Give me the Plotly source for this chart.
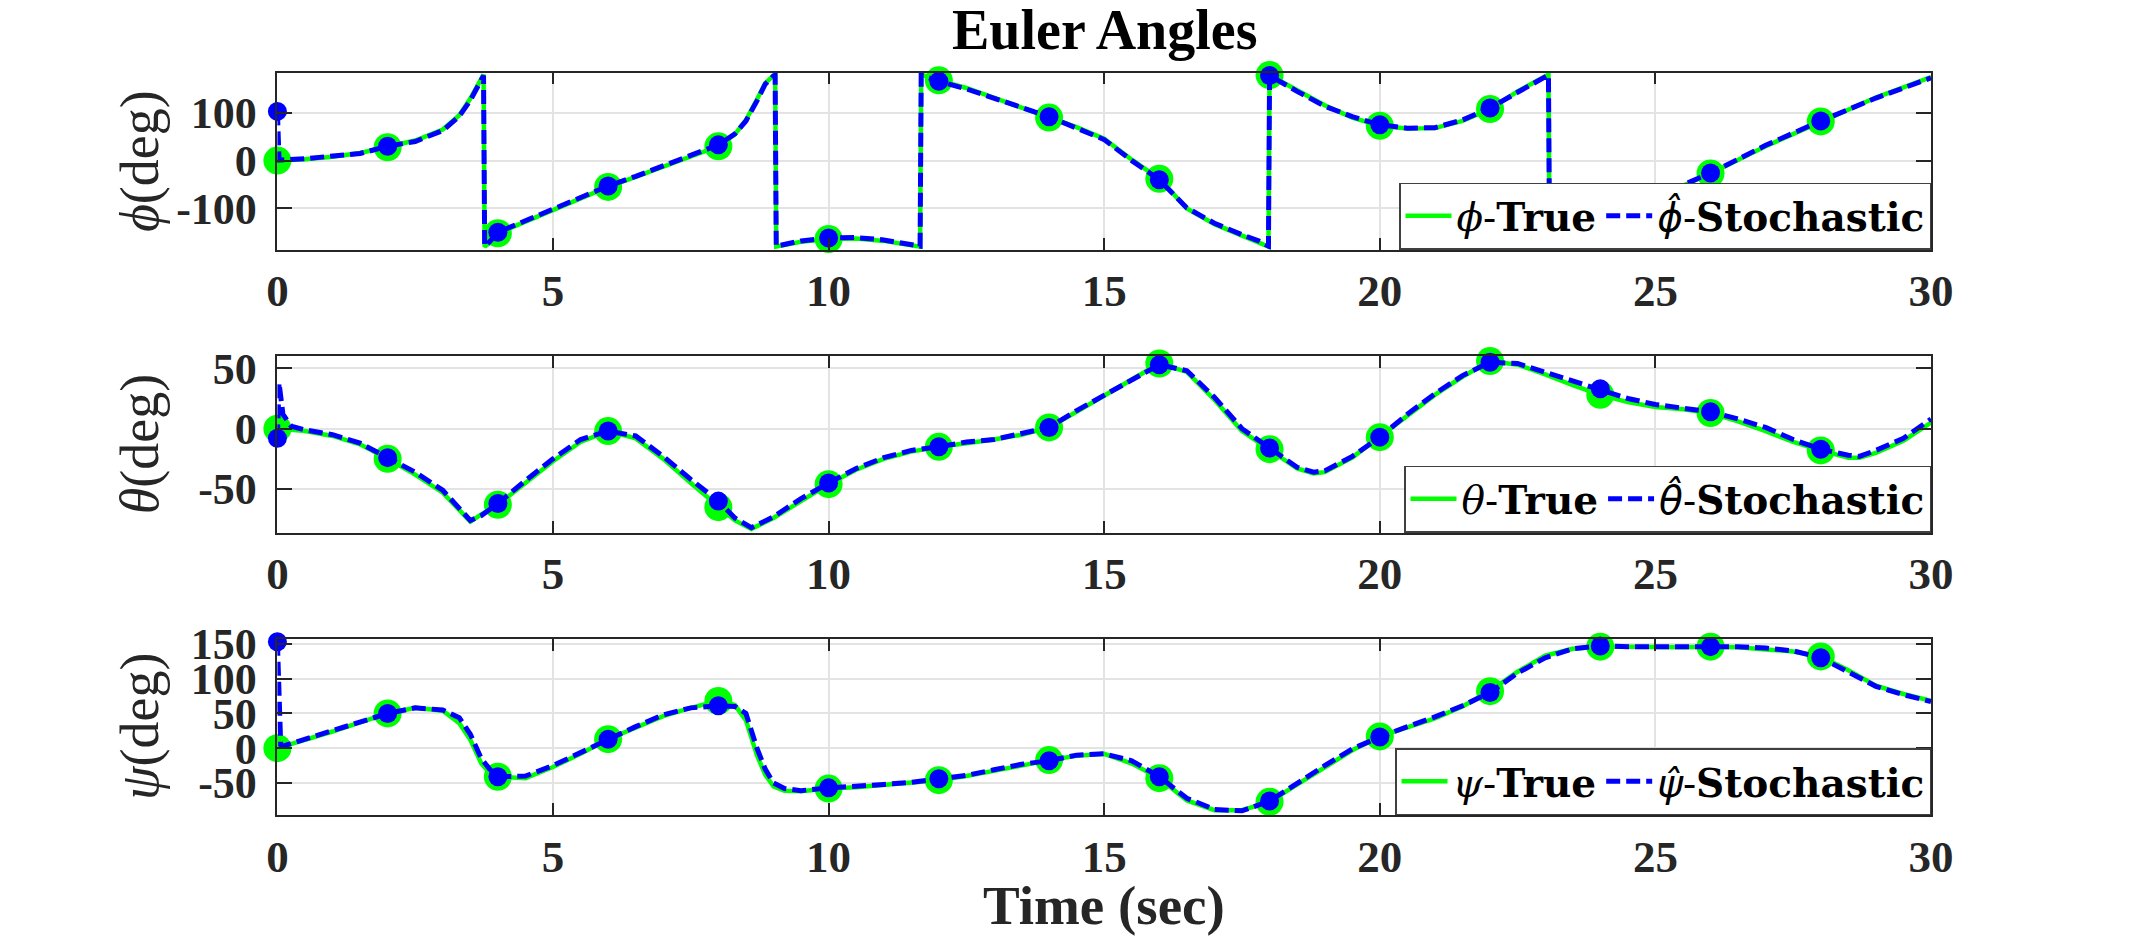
import numpy as np
import plotly.graph_objects as go

# ---------------- data ----------------
t_phi = [0, 0.03, 0.5, 1, 1.5, 2, 2.5, 3, 3.3, 3.5,
         3.65, 3.74, 3.76, 3.85, 4, 4.5, 5, 5.5, 6, 6.5,
         7, 7.5, 8, 8.3, 8.5, 8.7, 8.85, 9.0, 9.03, 9.05,
         9.2, 9.5, 10, 10.5, 11, 11.4, 11.66, 11.68, 11.8, 12,
         12.5, 13, 13.5, 14, 14.5, 15, 15.5, 16, 16.5, 17,
         17.5, 17.8, 17.98, 18.0, 18.5, 19, 19.5, 20, 20.5, 21,
         21.5, 22, 22.5, 22.8, 23.06, 23.08, 24, 25, 26, 27,
         28, 29, 30]
phi_true = [0, 0, 3, 8, 16, 28, 42, 65, 95, 130,
            160, 180, -180, -172, -152, -128, -103, -79, -55, -34,
            -12, 9, 30, 55, 85, 128, 162, 178, 180, -180,
            -176, -170, -164, -163, -168, -175, -180, 180, 175, 168,
            152, 132, 112, 90, 70, 46, 2, -38, -100, -133,
            -157, -170, -180, 179, 147, 116, 90, 73, 67, 68,
            83, 108, 145, 163, 180, -180, -128, -78, -27, 30,
            82, 132, 175]
phi_stoch = [103, 1, 4, 9, 15, 30, 40, 63, 93, 126,
             158, 178, -179, -170, -150, -126, -101, -78, -53, -33,
             -11, 10, 33, 56, 83, 125, 160, 177, 179, -179,
             -175, -168, -162, -161, -166, -174, -179, 179, 174, 166,
             150, 131, 110, 92, 68, 44, 0, -40, -99, -131,
             -155, -168, -179, 178, 145, 114, 92, 75, 68, 69,
             85, 110, 143, 162, 179, -179, -126, -76, -26, 32,
             83, 131, 173]

t_theta = [0, 0.03, 0.1, 0.25, 0.5, 1, 1.5, 2, 2.5, 3,
           3.5, 3.7, 4, 4.5, 5, 5.5, 6, 6.5, 7, 7.5,
           8, 8.3, 8.6, 9, 9.5, 10, 10.5, 11, 11.5, 12,
           12.5, 13, 13.5, 14, 14.5, 15, 15.5, 16, 16.5, 17,
           17.5, 18, 18.5, 18.8, 19, 19.5, 20, 20.5, 21, 21.5,
           22, 22.5, 23, 23.5, 24, 24.5, 25, 25.5, 26, 26.5,
           27, 27.5, 28, 28.5, 28.7, 29, 29.5, 30]
theta_true = [0, 0, -0.5, -1, -2, -6, -13, -25, -38, -53,
              -77, -71, -63, -45, -27, -11, -2, -8, -25, -45,
              -65, -76, -83, -74, -60, -46, -34, -25, -19, -15,
              -12, -9, -5, 1, 14, 27, 40, 54, 47, 24,
              -2, -17, -33, -37, -36, -24, -7, 11, 28, 43,
              56, 53, 45, 36, 28, 22, 18, 16, 13, 6,
              -2, -11, -18, -24, -24, -20, -10, 5]
theta_stoch = [-8, 38, 12, 2, -1, -5, -12, -24, -36, -51,
               -76, -72, -62, -43, -25, -9, -2, -6, -23, -42,
               -60, -74, -82, -73, -58, -45, -33, -24, -18, -15,
               -11, -9, -4, 1, 15, 28, 41, 53, 48, 26,
               0, -16, -32, -36, -35, -23, -7, 12, 29, 44,
               55, 54, 47, 39, 33, 25, 20, 17, 14, 8,
               1, -9, -17, -22, -23, -18, -8, 8]

t_psi = [0, 0.03, 0.06, 0.1, 0.5, 1, 1.5, 2, 2.5, 3,
         3.3, 3.5, 3.7, 3.85, 4, 4.5, 5, 5.5, 6, 6.5,
         7, 7.5, 8, 8.3, 8.5, 8.7, 8.85, 9, 9.2, 9.5,
         10, 10.5, 11, 11.5, 12, 12.5, 13, 13.5, 14, 14.5,
         15, 15.5, 16, 16.5, 17, 17.5, 18, 18.5, 19, 19.5,
         20, 20.5, 21, 21.5, 22, 22.5, 23, 23.5, 24, 24.5,
         25, 25.5, 26, 26.5, 27, 27.5, 28, 28.5, 29, 29.5,
         30]
psi_true = [0, 0.7, 1.4, 2.4, 12, 24, 37, 50, 58, 54,
            36, 12, -22, -35, -41, -43, -27, -8, 13, 30,
            46, 58, 68, 62, 40, -10, -38, -55, -61, -62,
            -58, -56, -53, -50, -46, -40, -33, -25, -17, -11,
            -8, -22, -43, -75, -89, -89, -77, -52, -27, -3,
            17, 30, 43, 60, 82, 110, 133, 143, 146, 146,
            145, 145, 146, 145, 142, 139, 132, 112, 90, 78,
            68]
psi_stoch = [153, 60, 5, 3, 13, 25, 38, 50, 58, 55,
             44, 20, -15, -30, -41, -40, -25, -6, 13, 31,
             48, 58, 61, 60, 50, 0, -30, -50, -58, -61,
             -57, -55, -52, -49, -44, -39, -31, -23, -18, -10,
             -8, -18, -41, -72, -88, -90, -76, -50, -25, -1,
             16, 31, 45, 61, 80, 108, 130, 143, 147, 146,
             146, 146, 146, 146, 144, 140, 130, 110, 89, 77,
             67]

x_ticks = [0, 5, 10, 15, 20, 25, 30]
phi_ticks = [-100, 0, 100]
theta_ticks = [-50, 0, 50]
psi_ticks = [-50, 0, 50, 100, 150]
symbols = ["ϕ", "θ", "ψ"]

# ---------------- layout helpers ----------------
W, H = 2136, 944
X0, X1 = 277.4, 1931.0
panel_px = [(72.7, 249.5), (356.0, 532.5), (639.0, 815.0)]
yranges = [[-186, 184], [-86, 60.2], [-96, 157]]

GREEN = "rgb(0,255,0)"
BLUE = "rgb(0,0,255)"
AXC = "#262626"
FONT = "Liberation Serif"
LEGFONT = "DejaVu Serif"
HATFONT = "DejaVu Sans"

panels = [
    (t_phi, phi_true, phi_stoch, phi_ticks),
    (t_theta, theta_true, theta_stoch, theta_ticks),
    (t_psi, psi_true, psi_stoch, psi_ticks),
]

fig = go.Figure()
layout = dict(
    width=W, height=H, autosize=False,
    margin=dict(l=0, r=0, t=0, b=0, autoexpand=False),
    paper_bgcolor="white", plot_bgcolor="white",
    showlegend=True,
)
annotations = []

for i, (t, yt, ys, yticks) in enumerate(panels):
    sfx = "" if i == 0 else str(i + 1)
    xa, ya = "x" + sfx, "y" + sfx
    lg = "legend" + sfx
    sym = symbols[i]
    t = np.asarray(t, dtype=float)
    yt = np.asarray(yt, dtype=float)
    ys = np.asarray(ys, dtype=float)
    mk = np.isclose(np.mod(t, 2.0), 0.0) & (t < 29.5)

    fig.add_trace(go.Scatter(
        x=t, y=yt, mode="lines", xaxis=xa, yaxis=ya, legend=lg,
        line=dict(color=GREEN, width=4.5),
        name=f"<i>{sym}</i>-<b>True</b>"))
    fig.add_trace(go.Scatter(
        x=t[mk], y=yt[mk], mode="markers", xaxis=xa, yaxis=ya,
        showlegend=False, cliponaxis=False,
        marker=dict(color=GREEN, size=28, line=dict(width=0))))
    fig.add_trace(go.Scatter(
        x=t, y=ys, mode="lines", xaxis=xa, yaxis=ya, legend=lg,
        line=dict(color=BLUE, width=5, dash="14px,6px"),
        name=(f"<span style=\"font-family:'{HATFONT}'\"><i>{sym}\u0302</i></span>"
              f"-<b>Stochastic</b>")))
    fig.add_trace(go.Scatter(
        x=t[mk], y=ys[mk], mode="markers", xaxis=xa, yaxis=ya,
        showlegend=False, cliponaxis=False,
        marker=dict(color=BLUE, size=19, line=dict(width=0))))

    top, bot = panel_px[i]
    ydom = [1 - bot / H, 1 - top / H]
    layout["xaxis" + sfx] = dict(
        domain=[X0 / W, X1 / W], anchor=ya, range=[0, 30],
        tickvals=x_ticks, ticktext=[str(v) for v in x_ticks],
        ticks="inside", ticklen=12, tickwidth=1.5, tickcolor=AXC,
        showline=True, linecolor=AXC, linewidth=1.5, mirror="ticks",
        showgrid=True, gridcolor="#e3e3e3", gridwidth=1.5,
        zeroline=False, ticklabelstandoff=1,
        tickfont=dict(family=FONT, size=45, color=AXC, weight="bold"),
    )
    layout["yaxis" + sfx] = dict(
        domain=ydom, anchor=xa, range=yranges[i],
        tickvals=yticks, ticktext=[str(v) for v in yticks],
        ticks="inside", ticklen=15, tickwidth=1.5, tickcolor=AXC,
        showline=True, linecolor=AXC, linewidth=1.5, mirror="ticks",
        showgrid=True, gridcolor="#e3e3e3", gridwidth=1.5,
        zeroline=False, ticklabelstandoff=10,
        tickfont=dict(family=FONT, size=44, color=AXC, weight="bold"),
    )
    layout[lg] = dict(
        x=X1 / W, xanchor="right", y=ydom[0], yanchor="bottom",
        orientation="h", bgcolor="white", bordercolor="#404040", borderwidth=1.5,
        font=dict(family=LEGFONT, size=39, color="black"),
        itemwidth=46, tracegroupgap=0,
    )
    annotations.append(dict(
        text=f"<i>{sym}</i>(deg)", xref="paper", yref="paper",
        x=140 / W, y=(ydom[0] + ydom[1]) / 2, xanchor="center", yanchor="middle",
        textangle=-90, showarrow=False,
        font=dict(family=FONT, size=54, color=AXC)))

annotations.append(dict(
    text="<b>Euler Angles</b>", xref="paper", yref="paper",
    x=(X0 + X1) / 2 / W, y=1 - 30 / H, xanchor="center", yanchor="middle",
    showarrow=False, font=dict(family=FONT, size=56, color="black")))
annotations.append(dict(
    text="<b>Time (sec)</b>", xref="paper", yref="paper",
    x=(X0 + X1) / 2 / W, y=1 - 905 / H, xanchor="center", yanchor="middle",
    showarrow=False, font=dict(family=FONT, size=55, color=AXC)))

layout["annotations"] = annotations
fig.update_layout(**layout)
fig.write_html("out.html", config={"displayModeBar": False})
